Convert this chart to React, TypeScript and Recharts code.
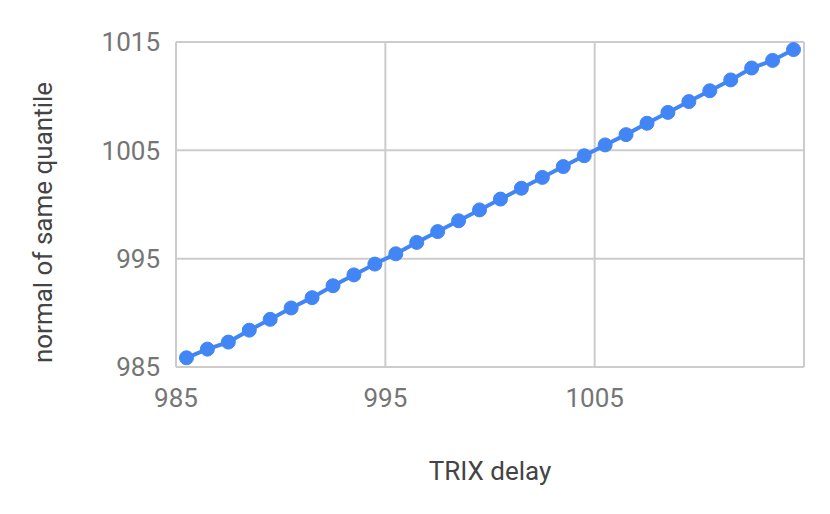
import React from "react";
import { LineChart, Line, XAxis, YAxis, CartesianGrid } from "recharts";

const trixDelay = [
  985.5, 986.5, 987.5, 988.5, 989.5, 990.5, 991.5, 992.5, 993.5, 994.5,
  995.5, 996.5, 997.5, 998.5, 999.5, 1000.5, 1001.5, 1002.5, 1003.5, 1004.5,
  1005.5, 1006.5, 1007.5, 1008.5, 1009.5, 1010.5, 1011.5, 1012.5, 1013.5, 1014.5,
];

const normalQuantile = [
  985.85, 986.65, 987.3, 988.4, 989.4, 990.45, 991.4, 992.5, 993.5, 994.5,
  995.45, 996.5, 997.5, 998.5, 999.5, 1000.5, 1001.5, 1002.5, 1003.5, 1004.5,
  1005.5, 1006.45, 1007.5, 1008.5, 1009.5, 1010.5, 1011.5, 1012.6, 1013.3, 1014.3,
];

const xTicks = [985, 995, 1005, 1015];
const yTicks = [985, 995, 1005, 1015];

const data = trixDelay.map((x, i) => ({ x, y: normalQuantile[i] }));

const FONT = "Roboto, 'Noto Sans', sans-serif";

function XTitle(props: any) {
  const vb = props.viewBox || {};
  return (
    <text
      x={vb.x + vb.width / 2}
      y={vb.y + 113}
      textAnchor="middle"
      fontSize={26}
      fontFamily={FONT}
      fill="#444444"
    >
      TRIX delay
    </text>
  );
}

function YTitle(props: any) {
  const vb = props.viewBox || {};
  const cx = 52;
  const cy = vb.y + vb.height / 2 + 18;
  return (
    <text
      x={cx}
      y={cy}
      transform={`rotate(-90 ${cx} ${cy})`}
      textAnchor="middle"
      fontSize={26}
      fontFamily={FONT}
      fill="#444444"
    >
      normal of same quantile
    </text>
  );
}

export default function App() {
  return (
    <div style={{ position: "absolute", left: 0, top: 0, background: "#fff" }}>
      <LineChart
        width={830}
        height={514}
        data={data}
        margin={{ top: 42, right: 26, bottom: 0, left: 0 }}
      >
        <CartesianGrid stroke="#cccccc" strokeWidth={2} />
        <XAxis
          dataKey="x"
          type="number"
          domain={[985, 1015]}
          ticks={xTicks}
          tickFormatter={(v: number) => (v === 1015 ? "" : String(v))}
          axisLine={false}
          tickLine={false}
          tickSize={0}
          tickMargin={22}
          height={147}
          tick={{ fontSize: 26, fill: "#757575", fontFamily: FONT }}
          label={XTitle}
        />
        <YAxis
          type="number"
          domain={[985, 1015]}
          ticks={yTicks}
          axisLine={false}
          tickLine={false}
          tickSize={0}
          tickMargin={16}
          width={176}
          tick={{ fontSize: 26, fill: "#757575", fontFamily: FONT }}
          label={YTitle}
        />
        <Line
          type="linear"
          dataKey="y"
          stroke="#4285f4"
          strokeWidth={4}
          dot={{ r: 7, fill: "#4285f4", stroke: "#4285f4", strokeWidth: 1 }}
          isAnimationActive={false}
        />
      </LineChart>
    </div>
  );
}
